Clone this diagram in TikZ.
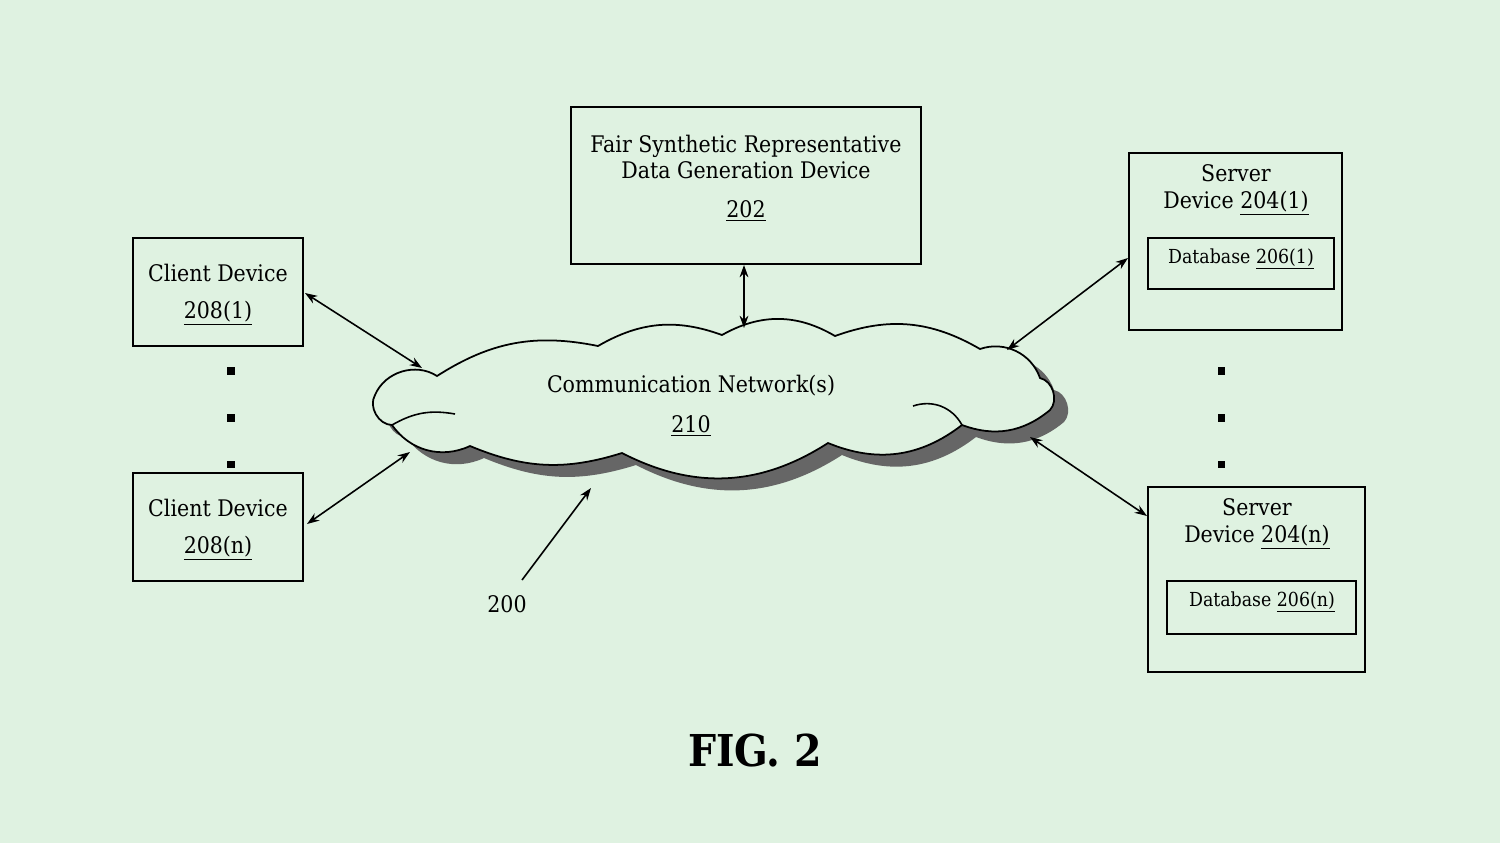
\documentclass[tikz,border=0pt]{standalone}
\usepackage{fontspec}
\setmainfont{DejaVu Serif Condensed}
\usetikzlibrary{arrows.meta}
\definecolor{bg}{HTML}{DFF2E1}
\begin{document}
\begin{tikzpicture}[x=0.02cm,y=-0.02cm,
  box/.style={draw,line width=1pt,inner sep=0},
  lab/.style={font=\fontsize{13}{15}\selectfont,align=center},
  small/.style={font=\fontsize{11}{13}\selectfont,align=center},
  arr/.style={{Stealth[length=7pt,width=5pt]}-{Stealth[length=7pt,width=5pt]},line width=0.9pt},
  dot/.style={fill,minimum size=4pt,inner sep=0}]
\fill[bg] (0,0) rectangle (1500,843);
\useasboundingbox (0,0) rectangle (1500,843);
% boxes
\draw[box] (571,107) rectangle (921,264);
\node[lab] (t) at (746,157) {Fair Synthetic Representative\\Data Generation Device};
\node[lab] (tn) at (746,211) {\underline{202}};
\coordinate (top) at (744,265);
\draw[box] (133,238) rectangle (303,346);
\node[lab] (c1) at (218,273) {Client Device};
\node[lab] (c1n) at (218,313) {\underline{208(1)}};
\draw[box] (133,473) rectangle (303,581);
\node[lab] (c2) at (218,508) {Client Device};
\node[lab] (c2n) at (218,548) {\underline{208(n)}};
\draw[box] (1129,153) rectangle (1342,330);
\node[lab] (s1) at (1236,190) {Server\\Device \underline{204(1)}};
\draw[box] (1148,238) rectangle (1334,289);
\node[small] (d1) at (1241,259) {Database \underline{206(1)}};
\draw[box] (1148,487) rectangle (1365,672);
\node[lab] (s2) at (1257,524) {Server\\Device \underline{204(n)}};
\draw[box] (1167,581) rectangle (1356,634);
\node[small] (d2) at (1262,602) {Database \underline{206(n)}};
% dots
\foreach \y in {371,418,464}{\node[dot] at (231,\y) {}; \node[dot] at (1221,\y) {};}
% cloud
\def\cloud{(375,395) to[bend left=50] (437,376) to[bend left=22] (598,346) to[bend left=25] (722,335) to[bend left=30] (835,336) to[bend left=25] (980,349) to[bend left=45] (1040,378) to[bend left=60] (1050,410) to[bend left=30] (962,425) to[bend left=30] (828,443) to[bend left=30] (622,453) to[bend left=20] (470,446) to[bend left=40] (392,425) to[bend left=60] cycle}
\fill[black!60,shift={(14,12)}] \cloud;
\filldraw[fill=bg,line width=1pt] \cloud;
\draw[line width=0.9pt] (913,406) to[bend left=40] (962,425);
\draw[line width=0.9pt] (392,425) to[bend left=20] (455,414);
\node[lab] (cn) at (691,386) {Communication Network(s)};
\node[lab] (cnn) at (691,426) {\underline{210}};
% arrows
\coordinate (a1) at (305,293); \coordinate (b1) at (422,368);
\coordinate (a2) at (307,524); \coordinate (b2) at (410,452);
\coordinate (a3) at (744,328);
\coordinate (a4) at (1128,258); \coordinate (b4) at (1007,350);
\coordinate (a5) at (1147,516); \coordinate (b5) at (1030,437);
\draw[arr] (a1) -- (b1);
\draw[arr] (a2) -- (b2);
\draw[arr] (top) -- (a3);
\draw[arr] (a4) -- (b4);
\draw[arr] (a5) -- (b5);
\node[lab] (l200) at (507,604) {200};
\coordinate (p1) at (522,580); \coordinate (p2) at (591,488);
\draw[-{Stealth[length=7pt,width=5pt]},line width=0.9pt] (p1) -- (p2);
\node[font=\bfseries\fontsize{25}{28}\selectfont] (fig) at (755,750) {FIG. 2};
\end{tikzpicture}
\end{document}
